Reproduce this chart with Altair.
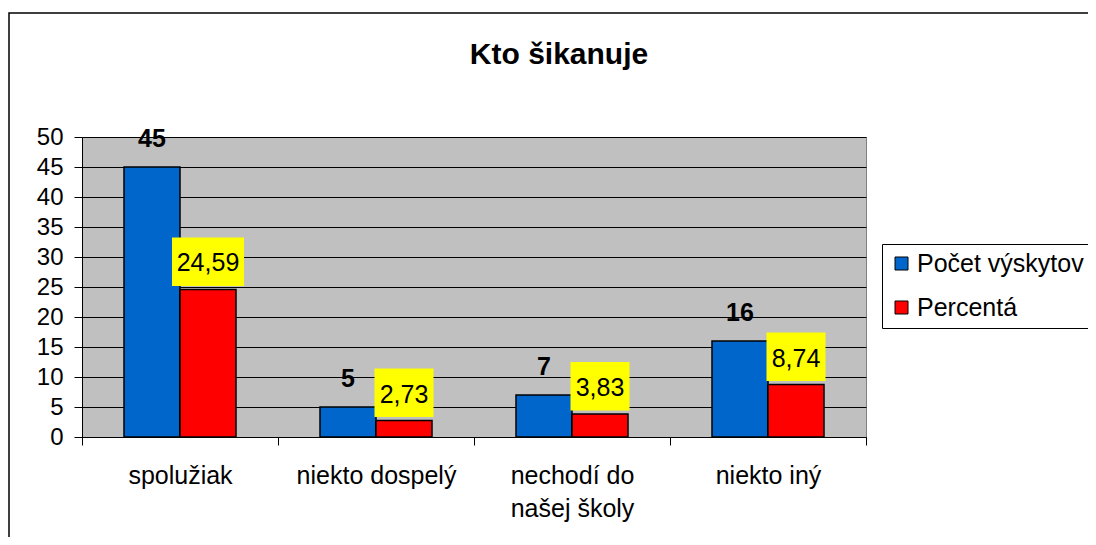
import altair as alt
import pandas as pd

# ---- data ----
categories = ["spolužiak", "niekto dospelý", "nechodí do\nnašej školy", "niekto iný"]
series = ["Počet výskytov", "Percentá"]
counts = [45, 5, 7, 16]
percents = [24.59, 2.73, 3.83, 8.74]
y_ticks = [0, 5, 10, 15, 20, 25, 30, 35, 40, 45, 50]
colors = ["#0066CC", "#FF0000"]
title_text = "Kto šikanuje"

rows = []
for c, n, p in zip(categories, counts, percents):
    rows.append({"kategoria": c, "seria": series[0], "hodnota": n})
    rows.append({"kategoria": c, "seria": series[1], "hodnota": p})
df = pd.DataFrame(rows)

FONT = "Liberation Sans, Arial, Helvetica, sans-serif"

x_axis = alt.Axis(
    title=None, labelAngle=0, labelExpr="split(datum.label, '\\n')",
    labelLineHeight=33, labelFontSize=25, labelPadding=18, tickSize=8,
    tickBand="extent", grid=False, labelFont=FONT, labelColor="black",
    domainColor="black", tickColor="black",
)
x_enc = alt.X("kategoria:N", sort=categories,
              scale=alt.Scale(domain=categories, paddingInner=0, paddingOuter=0),
              axis=x_axis)
xo_enc = alt.XOffset("seria:N", sort=series,
                     scale=alt.Scale(domain=series, paddingInner=0, paddingOuter=0.75))
y_scale = alt.Scale(domain=[0, 50], nice=False, zero=True)

y_axis = alt.Axis(
    title=None, values=y_ticks, tickSize=8, labelPadding=11, labelFontSize=24,
    labelFont=FONT, labelColor="black", grid=True, gridColor="black",
    gridWidth=1, domainColor="black", tickColor="black",
)
y_enc = alt.Y("hodnota:Q", scale=y_scale, axis=y_axis)

base = alt.Chart(df)

bars = base.mark_bar(stroke="black", strokeWidth=1.5).encode(
    x=x_enc,
    xOffset=xo_enc,
    y=y_enc,
    color=alt.Color(
        "seria:N", sort=series,
        scale=alt.Scale(domain=series, range=colors),
        legend=alt.Legend(
            title=None, orient="none", legendX=800, legendY=107,
            direction="vertical", symbolType="square", symbolSize=169,
            symbolStrokeColor="black", symbolStrokeWidth=1, symbolOpacity=1,
            labelFontSize=25, labelFont=FONT, labelColor="black", labelLimit=400,
            labelOffset=3, rowPadding=18, padding=7,
            strokeColor="black", fillColor="white",
        ),
    ),
)

count_labels = base.transform_filter(
    alt.datum.seria == series[0]
).transform_calculate(
    label="format(datum.hodnota, 'd')"
).mark_text(
    font=FONT, fontSize=25, fontWeight="bold", color="black",
    baseline="alphabetic", dy=-20,
).encode(
    x=x_enc, xOffset=xo_enc, y=y_enc, text="label:N",
)

pct = base.transform_filter(
    alt.datum.seria == series[1]
).transform_calculate(
    label="replace(format(datum.hodnota, '.2f'), '.', ',')",
    boxw="length(datum.label) * 13 + 7",
)

pct_boxes = pct.mark_bar(fill="#FFFF00", yOffset=-52, y2Offset=-3.5).encode(
    x=x_enc, xOffset=xo_enc, y=y_enc,
    y2="hodnota:Q",
    size=alt.Size("boxw:Q", scale=None, legend=None),
)

pct_labels = pct.mark_text(
    font=FONT, fontSize=25, color="black", baseline="alphabetic", dy=-18,
).encode(
    x=x_enc, xOffset=xo_enc, y=y_enc, text="label:N",
)

frame = alt.Chart(pd.DataFrame({"f": [0]})).mark_rect(
    fillOpacity=0, stroke="black", strokeWidth=1.5
).encode(
    x=alt.value(-73), x2=alt.value(1100), y=alt.value(-124), y2=alt.value(600)
)

chart = alt.layer(frame, bars, count_labels, pct_boxes, pct_labels).properties(
    width=784, height=300,
    background="white",
    autosize=alt.AutoSizeParams(type="none"),
    padding={"left": 74, "top": 129, "right": 222, "bottom": 100},
    title=alt.TitleParams(
        text=title_text, font=FONT, fontSize=30, fontWeight="bold", color="black",
        anchor="middle", frame="group", dx=85, offset=-82, baseline="alphabetic",
    ),
).configure_view(
    fill="#C0C0C0", stroke="#808080", strokeWidth=1
)

chart.save("out.html", embed_options={"renderer": "svg", "actions": False})
